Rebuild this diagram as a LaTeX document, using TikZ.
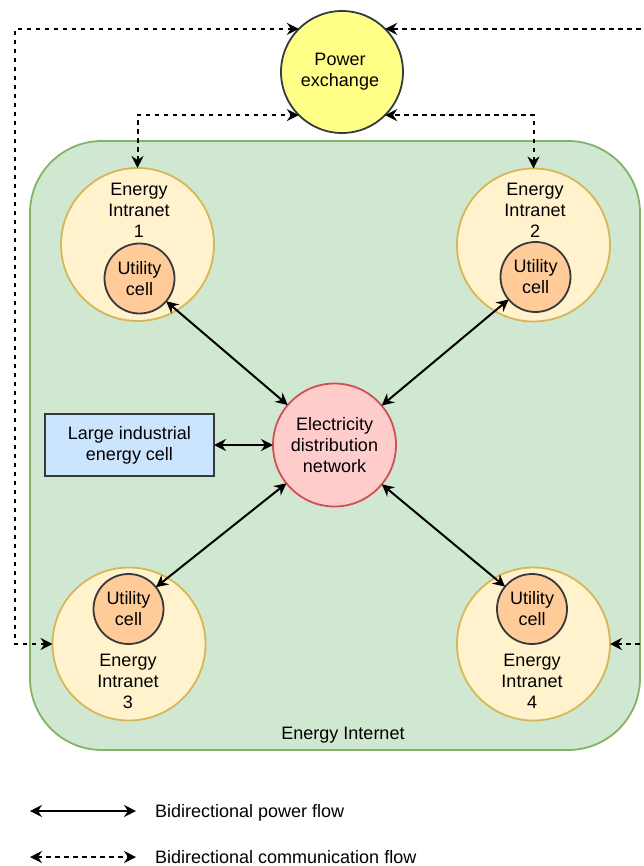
\documentclass[tikz,border=0pt]{standalone}
\usepackage{fontspec}
\setmainfont{Liberation Sans}
\usetikzlibrary{arrows.meta,calc}
\definecolor{eifill}{HTML}{D0E8D2}
\definecolor{eiline}{HTML}{82B366}
\definecolor{intfill}{HTML}{FFF2CC}
\definecolor{intline}{HTML}{D6B656}
\definecolor{ucfill}{HTML}{FFCC99}
\definecolor{darkline}{HTML}{36393D}
\definecolor{pefill}{HTML}{FFFF88}
\definecolor{edfill}{HTML}{FFCCCC}
\definecolor{edline}{HTML}{D05050}
\definecolor{lifill}{HTML}{CCE5FF}
\begin{document}
\begin{tikzpicture}[x=1pt,y=-1pt,
  every node/.style={font=\fontsize{18}{21}\selectfont, align=center},
  tip/.tip={Stealth[length=12pt,width=12pt,inset=4pt]},
  conn/.style={line width=2pt, {tip}-{tip}},
  comm/.style={conn, dash pattern=on 4.5pt off 4.5pt},
  roundcell/.style={circle, line width=1.8pt, inner sep=0pt, outer sep=0pt},
  intranet/.style={roundcell, draw=intline, fill=intfill, minimum size=153pt},
  utility/.style={roundcell, draw=darkline, fill=ucfill, minimum size=70pt},
]
\useasboundingbox (0,0) rectangle (644,866);
\clip (0,0) rectangle (644,866);
\fill[white] (0,0) rectangle (644,866);

% container
\node[draw=eiline, fill=eifill, line width=1.8pt, rounded corners=72pt,
      minimum width=610pt, minimum height=609pt, inner sep=0pt] (ei) at (335,445.5) {};
\node (eilabel) at (343,735) {Energy Internet};

% power exchange
\node[roundcell, draw=darkline, fill=pefill, minimum size=122pt] (pe) at (342,72) {};
\node (petext) at (340,72) {Power\\exchange};

% intranets
\node[intranet] (i1) at (137.5,244.5) {};
\node (i1text) at (139,210.5) {Energy\\Intranet\\1};
\node[utility] (u1) at (139.5,278.5) {Utility\\cell};

\node[intranet] (i2) at (533.5,245) {};
\node (i2text) at (535,210.5) {Energy\\Intranet\\2};
\node[utility] (u2) at (535.5,277) {Utility\\cell};

\node[intranet] (i3) at (129,644) {};
\node (i3text) at (128,681) {Energy\\Intranet\\3};
\node[utility] (u3) at (128.5,609) {Utility\\cell};

\node[intranet] (i4) at (533.5,644) {};
\node (i4text) at (532,681) {Energy\\Intranet\\4};
\node[utility] (u4) at (532,609) {Utility\\cell};

% distribution network
\node[roundcell, draw=edline, fill=edfill, minimum size=123pt] (ed) at (334.5,445) {Electricity\\distribution\\network};

% large industrial cell
\node[draw=darkline, fill=lifill, line width=1.8pt, minimum width=169pt, minimum height=62pt,
      inner sep=0pt, outer sep=0pt] (li) at (129.5,445) {Large industrial\\energy cell};

% power flows
\draw[conn] (li) -- (ed);
\draw[conn] (u1) -- (ed);
\draw[conn] (u2) -- (ed);
\draw[conn] (u3) -- (ed);
\draw[conn] (u4) -- (ed);

% communication flows
\coordinate (lx) at (15,0);
\coordinate (rx) at (650,0);
\draw[comm] (i3.west) -| (lx |- pe.135) -- (pe.135);
\draw[comm] (i4.east) -| (rx |- pe.45) -- (pe.45);
\draw[comm] (i1.north) |- (pe.225);
\draw[comm] (i2.north) |- (pe.315);

% legend
\coordinate (l1a) at (30,811);
\coordinate (l1b) at (136,811);
\coordinate (l2a) at (30,857);
\coordinate (l2b) at (136,857);
\draw[conn] (l1a) -- (l1b);
\draw[comm] (l2a) -- (l2b);
\node[anchor=base west, inner sep=0pt] (leg1) at (155,817) {Bidirectional power flow};
\node[anchor=base west, inner sep=0pt] (leg2) at (155,863) {Bidirectional communication flow};
\end{tikzpicture}
\end{document}
